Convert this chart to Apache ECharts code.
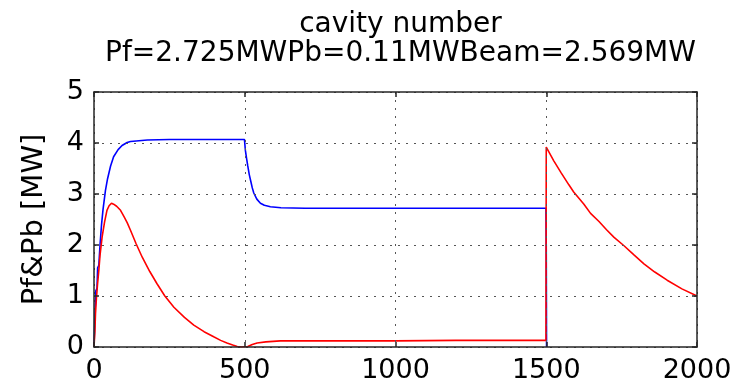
<!DOCTYPE html>
<html>
<head>
<meta charset="utf-8">
<script src="https://cdn.jsdelivr.net/npm/echarts@6/dist/echarts.min.js"></script>
<style>
  html, body { margin: 0; padding: 0; background: #fff; }
  #chart { width: 747px; height: 391px; }
</style>
</head>
<body>
<div id="chart"></div>
<script>
// Forward power Pf (blue) sampled over time
const pfTime  = [0, 3, 6, 10, 12, 16, 20, 25, 30, 38, 45, 55, 65, 80, 93, 110, 121, 140, 177, 250, 350, 450, 499,
                 502, 506, 510, 515, 520, 525, 530, 540, 552, 565, 585, 620, 700, 900, 1100, 1300, 1499, 1500, 1501];
const pfValue = [0, 0.6, 1.1, 1.15, 1.55, 1.6, 2.0, 2.4, 2.7, 3.07, 3.3, 3.55, 3.73, 3.87, 3.95, 4.01, 4.03, 4.04, 4.06, 4.07, 4.07, 4.07, 4.07,
                 3.86, 3.7, 3.55, 3.38, 3.25, 3.12, 3.02, 2.9, 2.82, 2.78, 2.75, 2.73, 2.72, 2.72, 2.72, 2.72, 2.72, 2.0, 0];

// Reflected power Pb (red) sampled over time
const pbTime  = [0, 3, 5, 8, 12, 16, 20, 27, 35, 43, 50, 58, 65, 75, 88, 100, 110, 121, 140, 160, 185, 209, 235, 265, 300, 331, 365,
                 397, 420, 441, 460, 475, 490, 510, 525, 541, 570, 618, 800, 1000, 1200, 1400, 1499,
                 1500, 1525, 1550, 1575, 1591, 1625, 1647, 1675, 1700, 1725, 1757, 1790, 1824, 1860, 1901, 1950, 2000];
const pbValue = [0, 0.3, 0.66, 0.95, 1.25, 1.5, 1.8, 2.16, 2.45, 2.68, 2.77, 2.82, 2.8, 2.76, 2.68, 2.55, 2.44, 2.29, 2.02, 1.76, 1.48, 1.24, 1.0, 0.78, 0.58, 0.43, 0.3,
                 0.2, 0.13, 0.08, 0.04, 0.01, 0.0, 0.01, 0.05, 0.08, 0.1, 0.12, 0.12, 0.12, 0.13, 0.13, 0.13,
                 3.92, 3.65, 3.41, 3.18, 3.04, 2.8, 2.62, 2.46, 2.3, 2.15, 1.99, 1.81, 1.63, 1.47, 1.31, 1.14, 1.0];

const titleLines = ['cavity number', 'Pf=2.725MWPb=0.11MWBeam=2.569MW'];
const yAxisName = 'Pf&Pb [MW]';

const FONT = 'DejaVu Sans';
const AXIS_COLOR = '#262626';
const GRID_DOT = { color: '#555', width: 1, type: [2, 6] };

const pairs = (xs, ys) => xs.map((x, i) => [x, ys[i]]);
const plain = v => String(v);

const chart = echarts.init(document.getElementById('chart'), null, { renderer: 'canvas' });

const boxAxis = {
  axisLine: { show: true, onZero: false, lineStyle: { color: AXIS_COLOR, width: 1.5 } },
  axisTick: { show: true, inside: true, length: 5, lineStyle: { color: AXIS_COLOR, width: 1.5 } },
  axisLabel: { show: false },
  splitLine: { show: false }
};

chart.setOption({
  animation: false,
  backgroundColor: '#fff',
  title: {
    text: titleLines.join('\n'),
    left: 395.5,
    top: 5,
    textAlign: 'center',
    textStyle: { fontFamily: FONT, fontSize: 28, fontWeight: 'normal', color: '#000', lineHeight: 29 }
  },
  grid: { left: 94, right: 50, top: 92, bottom: 44 },
  xAxis: [
    {
      type: 'value', min: 0, max: 2000, interval: 500, position: 'bottom', z: 3,
      axisLine: { show: true, onZero: false, lineStyle: { color: AXIS_COLOR, width: 1.5 } },
      axisTick: { show: true, inside: true, length: 5, lineStyle: { color: AXIS_COLOR, width: 1.5 } },
      axisLabel: { color: '#000', fontFamily: FONT, fontSize: 27, margin: 10, formatter: plain },
      splitLine: { show: true, lineStyle: GRID_DOT }
    },
    Object.assign({ type: 'value', min: 0, max: 2000, interval: 500, position: 'top', z: 3 }, boxAxis)
  ],
  yAxis: [
    {
      type: 'value', min: 0, max: 5, interval: 1, position: 'left', z: 3,
      name: yAxisName, nameLocation: 'middle', nameGap: 45, nameRotate: 90,
      nameTextStyle: { color: '#000', fontFamily: FONT, fontSize: 29 },
      axisLine: { show: true, onZero: false, lineStyle: { color: AXIS_COLOR, width: 1.5 } },
      axisTick: { show: true, inside: true, length: 5, lineStyle: { color: AXIS_COLOR, width: 1.5 } },
      axisLabel: { color: '#000', fontFamily: FONT, fontSize: 27, margin: 10, formatter: plain },
      splitLine: { show: true, lineStyle: GRID_DOT }
    },
    Object.assign({ type: 'value', min: 0, max: 5, interval: 1, position: 'right', z: 3 }, boxAxis)
  ],
  series: [
    {
      name: 'Pf', type: 'line', data: pairs(pfTime, pfValue),
      showSymbol: false, symbol: 'none',
      lineStyle: { color: '#0000ff', width: 1.6 }, z: 2
    },
    {
      name: 'Pb', type: 'line', data: pairs(pbTime, pbValue),
      showSymbol: false, symbol: 'none',
      lineStyle: { color: '#ff0000', width: 1.6 }, z: 2
    }
  ]
});
</script>
</body>
</html>
